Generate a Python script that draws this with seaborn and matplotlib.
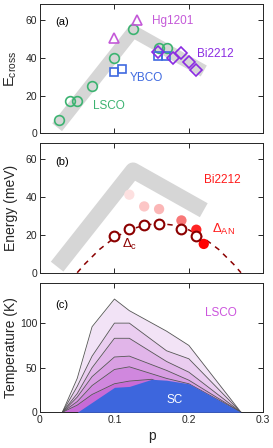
import matplotlib
matplotlib.use("Agg")
import matplotlib.pyplot as plt
import seaborn as sns

# ---- data ----
# panel (a)
lsco_p = [0.025, 0.04, 0.05, 0.07, 0.10, 0.125, 0.16, 0.17]
lsco_e = [7, 17, 17, 25, 40, 55, 45, 45]
hg_p = [0.10, 0.13]
hg_e = [50.4, 59.8]
ybco_p = [0.10, 0.11, 0.159, 0.169]
ybco_e = [32.7, 34.2, 41, 41]
bi_p = [0.159, 0.179, 0.189, 0.20, 0.21]
bi_e = [43, 39.8, 42.5, 38, 33.6]
band_p = [0.023, 0.125, 0.22]
band_e = [3.2, 54, 33]

# panel (b)
dc_p = [0.10, 0.12, 0.14, 0.16, 0.19, 0.21]
dc_e = [19.6, 23, 25.3, 25.8, 23, 19.5]
dan_p = [0.12, 0.14, 0.16, 0.19, 0.21, 0.22]
dan_e = [41.2, 35, 33.6, 27.6, 22.7, 15.2]
dan_colors = ["#fde0e0", "#fcc6c6", "#fbb6b6", "#f87878", "#ff2424", "#ff0000"]
dome_p = [0.05, 0.06, 0.08, 0.10, 0.12, 0.14, 0.16, 0.18, 0.20, 0.22, 0.24, 0.26, 0.27]
dome_e = [0, 4.5, 12.3, 18.5, 22.6, 25.1, 26, 25.1, 22.6, 18.3, 12.3, 4.5, 0]

# panel (c)
c_p = [0.03, 0.05, 0.07, 0.10, 0.12, 0.17, 0.20, 0.27]
c_levels = [
    [0, 38, 96, 127, 114, 91, 75, 0],
    [0, 29, 63, 100, 100, 69, 60, 0],
    [0, 21, 50, 83, 83, 57, 45, 0],
    [0, 17, 40, 62, 63, 47, 36, 0],
    [0, 12, 30, 48, 51, 38, 32, 0],
]
c6_p = [0.03, 0.05, 0.07, 0.10, 0.12, 0.15, 0.27]
c6_t = [0, 8, 20, 32, 35, 37, 0]
layer_colors = ["#f2e3f6", "#eacdf0", "#e1b5e9", "#d99fe3", "#d087de", "#c76bd7"]
sc_p = [0.05, 0.10, 0.12, 0.15, 0.17, 0.20, 0.27]
sc_t = [0, 28, 29, 37, 36, 32, 0]

sns.set_theme(style="ticks")
plt.rcParams["font.family"] = ["Liberation Sans", "DejaVu Sans"]
plt.rcParams["mathtext.fontset"] = "custom"
plt.rcParams["mathtext.rm"] = "Liberation Sans"
plt.rcParams["mathtext.it"] = "Liberation Sans"
axcol = "#262626"

fig = plt.figure(figsize=(2.73, 4.48), dpi=100)
ax_a = fig.add_axes([0.1465, 0.7025, 0.818, 0.2886])
ax_b = fig.add_axes([0.1465, 0.3913, 0.818, 0.2895])
ax_c = fig.add_axes([0.1465, 0.0797, 0.818, 0.2886])

for ax in (ax_a, ax_b, ax_c):
    ax.set_xlim(0, 0.3)
    ax.set_xticks([0, 0.1, 0.2, 0.3])
    ax.tick_params(direction="in", top=True, right=True, length=3.5, width=0.7,
                   labelsize=7.5, colors=axcol, pad=2)
    for s in ax.spines.values():
        s.set_linewidth(0.7)
        s.set_color(axcol)

# ---- (a) ----
ax = ax_a
sns.lineplot(x=band_p, y=band_e, ax=ax, color="#d6d6d6", lw=9, sort=False,
             solid_joinstyle="miter", solid_capstyle="butt", zorder=1)
sns.lineplot(x=lsco_p, y=lsco_e, ax=ax, estimator=None, sort=False, linestyle="",
             marker="o", ms=7, mfc="none", mec="#3cb371", mew=1.2, zorder=3)
sns.lineplot(x=hg_p, y=hg_e, ax=ax, estimator=None, linestyle="",
             marker="^", ms=7.5, mfc="none", mec="#c459d8", mew=1.2, zorder=3)
sns.lineplot(x=ybco_p, y=ybco_e, ax=ax, estimator=None, linestyle="",
             marker="s", ms=6, mfc="none", mec="#3f6ae0", mew=1.2, zorder=3)
sns.lineplot(x=bi_p, y=bi_e, ax=ax, estimator=None, linestyle="",
             marker="D", ms=6, mfc="none", mec="#8a2be2", mew=1.2, zorder=3)
ax.set_ylim(0, 68.5)
ax.set_yticks([0, 20, 40, 60])
ax.set_xticklabels([])
ax.set_ylabel(r"$\mathrm{E}_{\mathrm{cross}}$", fontsize=10.5, color=axcol)
ax.yaxis.set_label_coords(-0.095, 0.5)
ax.text(0.02, 58.7, "(a)", fontsize=8, color="black", va="center")
ax.text(0.150, 59.6, "Hg1201", fontsize=8.5, color="#c459d8", va="center")
ax.text(0.211, 42, "Bi2212", fontsize=8.5, color="#8a2be2", va="center")
ax.text(0.121, 29.5, "YBCO", fontsize=8.5, color="#3f6ae0", va="center")
ax.text(0.071, 14.5, "LSCO", fontsize=8.5, color="#3cb371", va="center")

# ---- (b) ----
ax = ax_b
sns.lineplot(x=band_p, y=band_e, ax=ax, color="#d6d6d6", lw=11.5, sort=False,
             solid_joinstyle="round", solid_capstyle="butt", zorder=1)
sns.lineplot(x=dome_p, y=dome_e, ax=ax, estimator=None, sort=False, color="#8b0000",
             lw=1.1, linestyle=(0, (3.5, 3.5)), zorder=2)
sns.scatterplot(x=dan_p, y=dan_e, ax=ax, hue=list(range(len(dan_p))),
                palette=dan_colors, legend=False, s=55, edgecolor="none", zorder=3)
sns.lineplot(x=dc_p, y=dc_e, ax=ax, estimator=None, sort=False, linestyle="",
             marker="o", ms=7, mfc="white", mec="#8b0000", mew=1.5, zorder=4)
ax.set_ylim(0, 68.5)
ax.set_yticks([0, 20, 40, 60])
ax.set_xticklabels([])
ax.set_ylabel("Energy (meV)", fontsize=10, color=axcol)
ax.yaxis.set_label_coords(-0.10, 0.5)
ax.text(0.02, 58.4, "(b)", fontsize=8, color="black", va="center")
ax.text(0.220, 49.2, "Bi2212", fontsize=8.5, color="#ff1a1a", va="center")
ax.text(0.110, 14.7, r"$\Delta_{\mathrm{c}}$", fontsize=9.5, color="#8b0000", va="center")
ax.text(0.231, 22.7, r"$\Delta_{\mathrm{AN}}$", fontsize=9.5, color="#ff1a1a", va="center")

# ---- (c) ----
ax = ax_c
for lev, col in zip(c_levels, layer_colors[:5]):
    ax.fill_between(c_p, lev, 0, color=col, lw=0, zorder=1)
    sns.lineplot(x=c_p, y=lev, ax=ax, estimator=None, sort=False,
                 color="#555555", lw=0.6, zorder=2)
ax.fill_between(c6_p, c6_t, 0, color=layer_colors[5], lw=0, zorder=2)
sns.lineplot(x=c6_p, y=c6_t, ax=ax, estimator=None, sort=False,
             color="#555555", lw=0.6, zorder=2)
ax.fill_between(sc_p, sc_t, 0, color="#3d66dd", lw=0, zorder=3)
ax.set_ylim(0, 145)
ax.set_yticks([0, 50, 100])
ax.set_xticklabels(["0", "0.1", "0.2", "0.3"])
ax.set_ylabel("Temperature (K)", fontsize=10, color=axcol)
ax.yaxis.set_label_coords(-0.10, 0.5)
ax.set_xlabel("p", fontsize=10, color=axcol, labelpad=3)
ax.text(0.02, 120, "(c)", fontsize=8, color="black", va="center")
ax.text(0.243, 110.8, "LSCO", fontsize=8.5, color="#cc55dd", va="center", ha="center")
ax.text(0.181, 13.7, "SC", fontsize=8.5, color="white", va="center", ha="center", zorder=5)

fig.savefig("out.png", dpi=100)
plt.close(fig)
